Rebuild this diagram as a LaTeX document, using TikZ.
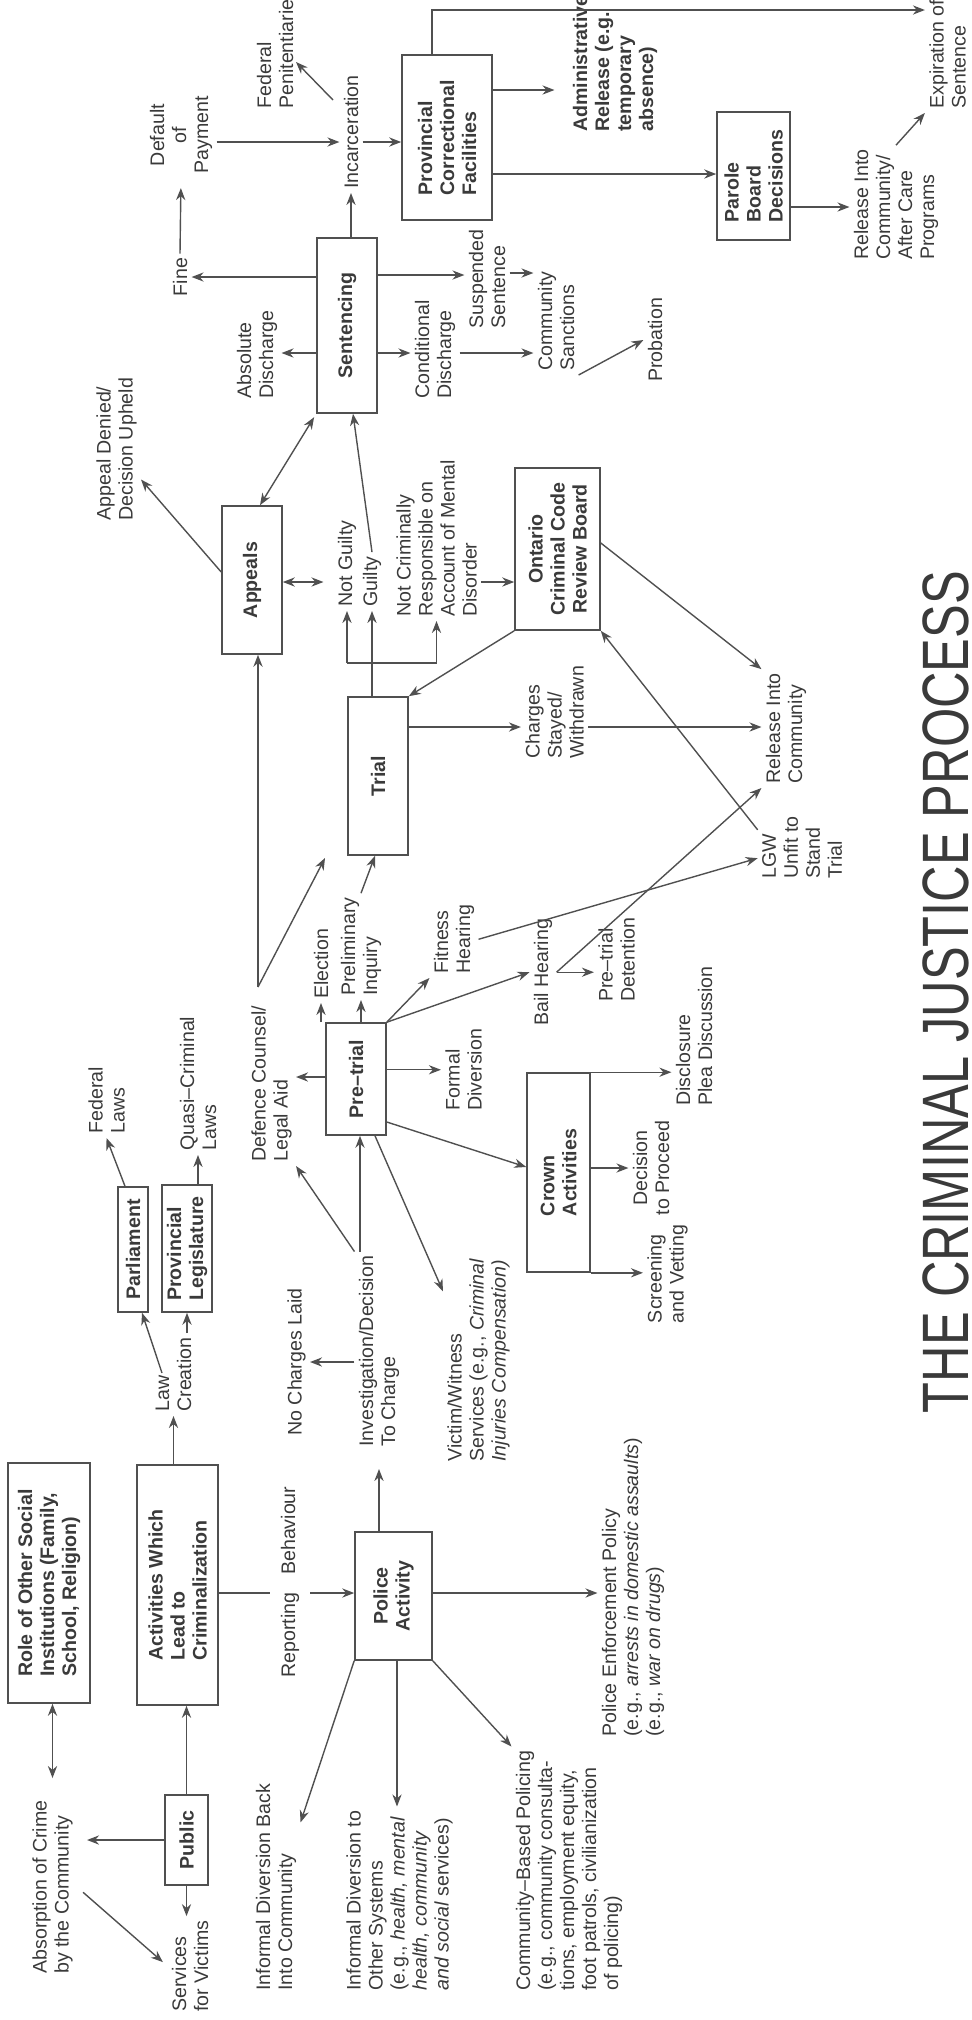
\documentclass[tikz,border=0pt]{standalone}
\usepackage{fontspec}
\setmainfont{Liberation Sans}
\newfontfamily\titlefont[FakeStretch=0.77]{Liberation Sans}
\usetikzlibrary{arrows.meta, calc}
\definecolor{ink}{HTML}{505050}
\definecolor{txtc}{HTML}{3A3A3A}
\newcommand{\lbfont}{\fontsize{9.8}{11}\selectfont}

\begin{document}
\begin{tikzpicture}[x=0.5pt, y=-0.5pt,
  txt/.style={rotate=90, inner sep=2pt, align=left, font=\lbfont, text=txtc},
  box/.style={rotate=90, draw=ink, line width=0.8pt, inner sep=2pt, align=left, font=\lbfont\bfseries, text=txtc},
  arr/.style={draw=ink, line width=0.7pt, -{Stealth[length=6pt,width=4.6pt]}},
  dbl/.style={draw=ink, line width=0.7pt, {Stealth[length=6pt,width=4.6pt]}-{Stealth[length=6pt,width=4.6pt]}},
  ln/.style={draw=ink, line width=0.7pt}]
\useasboundingbox (0,0) rectangle (971,2020);
% Boxes:
\node[box, minimum width=45pt, minimum height=21.5pt] (public) at (186.5,1840) {Public};
\node[box, minimum width=120pt, minimum height=41pt] (role) at (49,1583) {Role of Other Social\\Institutions (Family,\\School, Religion)};
\node[box, minimum width=120pt, minimum height=40.5pt] (activ) at (177.5,1585) {Activities Which\\Lead to\\Criminalization};
\node[box, minimum width=62.5pt, minimum height=15pt] (parl) at (133,1249.5) {Parliament};
\node[box, minimum width=63.5pt, minimum height=25pt] (provleg) at (187,1248.5) {Provincial\\Legislature};
\node[box, align=center, minimum width=64pt, minimum height=38.5pt] (police) at (393.5,1596) {Police\\Activity};
\node[box, minimum width=56pt, minimum height=30pt] (pretrial) at (356,1079) {Pre–trial};
\node[box, minimum width=99.5pt, minimum height=31.5pt] (crown) at (558.5,1172.5) {Crown\\Activities};
\node[box, minimum width=79pt, minimum height=30pt] (trial) at (378,776) {Trial};
\node[box, minimum width=74pt, minimum height=30pt] (appeals) at (252,580) {Appeals};
\node[box, align=center, minimum width=81pt, minimum height=42.5pt] (ontario) at (557.5,549) {Ontario\\Criminal Code\\Review Board};
\node[box, minimum width=87.5pt, minimum height=30pt] (sent) at (347,325.5) {Sentencing};
\node[box, minimum width=82.5pt, minimum height=45pt] (prov) at (447,137.5) {Provincial\\Correctional\\Facilities};
\node[box, minimum width=64pt, minimum height=36.5pt] (parole) at (753.5,176) {Parole\\Board\\Decisions};
% Labels:
\node[txt, anchor=west] (absorb) at (52.5,1978) {Absorption of Crime\\by the Community};
\node[txt, anchor=west] (services) at (190,2016) {Services\\for Victims};
\node[txt, anchor=west] (lawcr) at (173.5,1416) {Law\\Creation};
\node[txt, anchor=west] (fedlaws) at (106.5,1138) {Federal\\Laws};
\node[txt, anchor=west] (quasi) at (198,1155) {Quasi–Criminal\\Laws};
\node[txt, anchor=west] (invest) at (379,1451) {Investigation/Decision\\To Charge};
\node[txt] (nocharge) at (296.5,1362) {No Charges Laid};
\node[txt, anchor=west] (victim) at (478.5,1466) {Victim/Witness\\Services (e.g., \textit{Criminal}\\\textit{Injuries Compensation)}};
\node[txt, anchor=west] (enforce) at (633,1741) {Police Enforcement Policy\\(e.g., \textit{arrests in domestic assaults})\\(e.g., \textit{war on drugs})};
\node[txt, anchor=west] (commpol) at (569,1995) {Community–Based Policing\\(e.g., community consulta-\\tions, employment equity,\\foot patrols, civilianization\\of policing)};
\node[txt, anchor=west] (infoth) at (399.5,1995) {Informal Diversion to\\Other Systems\\(e.g., \textit{health, mental}\\\textit{health, community}\\\textit{and social} services)};
\node[txt, anchor=west] (infback) at (276,1995) {Informal Diversion Back\\Into Community};
\node[txt, anchor=west] (defence) at (271.5,1166) {Defence Counsel/\\Legal Aid};
\node[txt, anchor=west] (elect) at (321,1003) {Election};
\node[txt, anchor=west] (prelim) at (361,1000) {Preliminary\\Inquiry};
\node[txt, anchor=west] (fitness) at (454,978) {Fitness\\Hearing};
\node[txt, anchor=west] (bail) at (543,1030) {Bail Hearing};
\node[txt, anchor=west] (pretdet) at (616.5,1006) {Pre–trial\\Detention};
\node[txt, anchor=west] (lgw) at (802,883) {LGW\\Unfit to\\Stand\\Trial};
\node[txt, anchor=west] (formal) at (463.5,1115) {Formal\\Diversion};
\node[txt, align=center] (decis) at (651,1168) {Decision\\to Proceed};
\node[txt, anchor=west] (disclos) at (694,1110) {Disclosure\\Plea Discussion};
\node[txt] (screen) at (667.5,1274) {Screening\\and Vetting};
\node[txt, anchor=west] (denied) at (116.5,525) {Appeal Denied/\\Decision Upheld};
\node[txt, anchor=west] (notg) at (347,611) {Not Guilty};
\node[txt, anchor=west] (guilty) at (372,611) {Guilty};
\node[txt, anchor=west] (ncr) at (436.5,621) {Not Criminally\\Responsible on\\Account of Mental\\Disorder};
\node[txt, anchor=west] (charges) at (554.5,763) {Charges\\Stayed/\\Withdrawn};
\node[txt, anchor=west] (relcom) at (786,788) {Release Into\\Community};
\node[txt] (fine) at (180,277) {Fine};
\node[txt, anchor=west] (absdis) at (257,403) {Absolute\\Discharge};
\node[txt, align=center] (default) at (181,135) {Default\\of\\Payment};
\node[txt, anchor=west] (fedpen) at (275,113) {Federal\\Penitentiaries};
\node[txt, anchor=west] (incar) at (351,193) {Incarceration};
\node[txt, anchor=west] (condis) at (435,403) {Conditional\\Discharge};
\node[txt, anchor=west] (susp) at (487,333) {Suspended\\Sentence};
\node[txt, anchor=west] (commsan) at (556,375) {Community\\Sanctions};
\node[txt] (prob) at (655,340) {Probation};
\node[txt, anchor=west, font=\lbfont\bfseries] (admin) at (615,136) {Administrative\\Release (e.g.\\temporary\\absence)};
\node[txt, anchor=west] (relafter) at (896,264) {Release Into\\Community/\\After Care\\Programs};
\node[txt, anchor=west] (expir) at (947.5,113) {Expiration of\\Sentence};
\node[rotate=90, inner sep=0pt, text=txtc, font=\titlefont\fontsize{32.8}{36}\selectfont] (title) at (946,992) {THE CRIMINAL JUSTICE PROCESS};
% Public and law making
\draw[dbl, shorten >=9pt] (role.west -| absorb.east) -- (absorb.east);
\draw[arr, shorten >=5pt] (public.north) -- (absorb.south |- public.north);
\draw[arr] (public.east) -- (activ.west -| public.east);
\draw[arr] (public.west) -- (services.east -| public.west);
\draw[arr, shorten <=4pt, shorten >=3pt] (absorb.south) -- (services.north);
\draw[arr] (activ.east -| lawcr.west) -- (lawcr.west);
\draw[arr] (162,1373) -- (parl.west -| 142,0);
\draw[arr] (lawcr.east -| 187,0) -- (provleg.west -| 187,0);
\draw[arr] (parl.east -| 125,0) -- (fedlaws.west);
\draw[arr] (provleg.east -| quasi.west) -- (quasi.west);
\draw[arr] (activ.south |- 0,1593) -- (police.north |- 0,1593);
% Police
\draw[arr, shorten >=9pt] (police.east -| invest.west) -- (invest.west);
\draw[arr] (police.south |- 0,1593) -- (enforce.north |- 0,1593);
\draw[arr] (police.south west) -- (commpol.north east);
\draw[arr] (police.west -| 397,0) -- (infoth.east -| 397,0);
\draw[arr] (police.north west) -- ($(infback.south east)!0.4!(infback.south)$);
\draw[arr] (invest.east -| 360,0) -- (pretrial.west -| 360,0);
\draw[arr] (invest.north |- nocharge.south) -- (nocharge.south);
\draw[arr] (invest.north east) -- (defence.south west);
% Pre-trial
\draw[arr] (pretrial.west -| 375,0) -- ($(victim.north east)!0.35!(victim.north)$);
\draw[arr] (pretrial.north |- 0,1077) -- (defence.south |- 0,1077);
\draw[arr] (elect.west |- pretrial.east) -- (elect.west);
\draw[arr] (pretrial.east -| prelim.west) -- (prelim.west);
\draw[arr] (prelim.east) -- (trial.west -| 375,0);
\draw[arr] (pretrial.south east) -- (fitness.north west);
\draw[arr] (pretrial.south east) -- (bail.north);
\draw[arr] (bail.south) -- (pretdet.north |- bail.south);
\draw[arr] (bail.south) -- (relcom.north west);
\draw[arr] (fitness.south) -- ($(lgw.north)!0.3!(lgw.north west)$);
\draw[arr] ($(lgw.north)!0.5!(lgw.north east)$) -- (ontario.south west);
\draw[arr] (pretrial.south |- formal.north) -- (formal.north);
\draw[arr] (pretrial.south |- 0,1122) -- (crown.north |- 0,1167);
\draw[arr] (crown.south |- decis.north) -- (decis.north);
\draw[arr] (crown.south east) -- (disclos.north |- crown.south east);
\draw[arr] (crown.south west) -- (screen.north |- crown.south west);
% Trial and appeals
\coordinate (dc) at (258,987);
\draw[arr] (dc) -- (appeals.west -| dc);
\draw[arr] (dc) -- (325,858);
\draw[arr] (appeals.north |- 0,572) -- ($(denied.south)!0.4!(denied.south west)$);
\draw[dbl, shorten >=2pt] (appeals.east -| 260,0) -- (sent.north west);
\draw[dbl, shorten >=5pt] (appeals.south |- 0,582) -- (notg.north |- 0,582);
\draw[arr] (guilty.east) -- (sent.west -| 353,0);
\draw[arr] (trial.east -| guilty.west) -- (guilty.west);
\draw[ln] (notg.west |- 0,663) -- (ncr.west |- 0,663);
\draw[arr] (notg.west |- 0,663) -- (notg.west);
\draw[arr] (ncr.west |- 0,663) -- (ncr.west);
\draw[arr] (ncr.south |- 0,582) -- (ontario.north |- 0,582);
\draw[arr] (ontario.north west) -- (trial.south east);
\draw[arr] (ontario.south |- 0,543) -- (relcom.north east);
\draw[arr] (trial.south |- 0,727) -- (charges.north |- 0,727);
\draw[arr] (charges.south |- 0,727) -- (relcom.north |- 0,727);
% Sentencing
\draw[arr] (sent.north |- fine.south) -- (fine.south);
\draw[arr] (sent.north |- 0,353) -- (absdis.south |- 0,353);
\draw[arr, shorten >=5pt] (fine.east) -- (default.west);
\draw[arr] (default.south |- 0,142) -- (incar.north |- 0,142);
\draw[arr] (333,100) -- (296,62);
\draw[arr] (sent.east -| incar.west) -- (incar.west);
\draw[arr] (incar.south |- 0,142) -- (prov.north |- 0,142);
\draw[arr] (prov.east -| 432,0) |- (expir.north |- 0,10);
\draw[arr, shorten >=7pt] (prov.south |- 0,90) -- (admin.north |- 0,90);
\draw[arr] (prov.south |- 0,174) -- (parole.north |- 0,174);
\draw[arr] (parole.south |- 0,207) -- (relafter.north |- 0,207);
\draw[arr] (relafter.east) -- (expir.north west);
\draw[arr] (sent.south |- 0,275) -- (susp.north |- 0,275);
\draw[arr] (sent.south |- 0,353) -- (condis.north |- 0,353);
\draw[arr] (susp.south |- 0,273) -- (commsan.north |- 0,273);
\draw[arr] (condis.south |- 0,353) -- (commsan.north |- 0,353);
\draw[arr] (commsan.south west) -- (prob.north);
% label on the reporting line
\node[txt, fill=white, inner ysep=5.5pt] (report) at (290,1582) {Reporting\hspace{0.9em}Behaviour};
\end{tikzpicture}
\end{document}
